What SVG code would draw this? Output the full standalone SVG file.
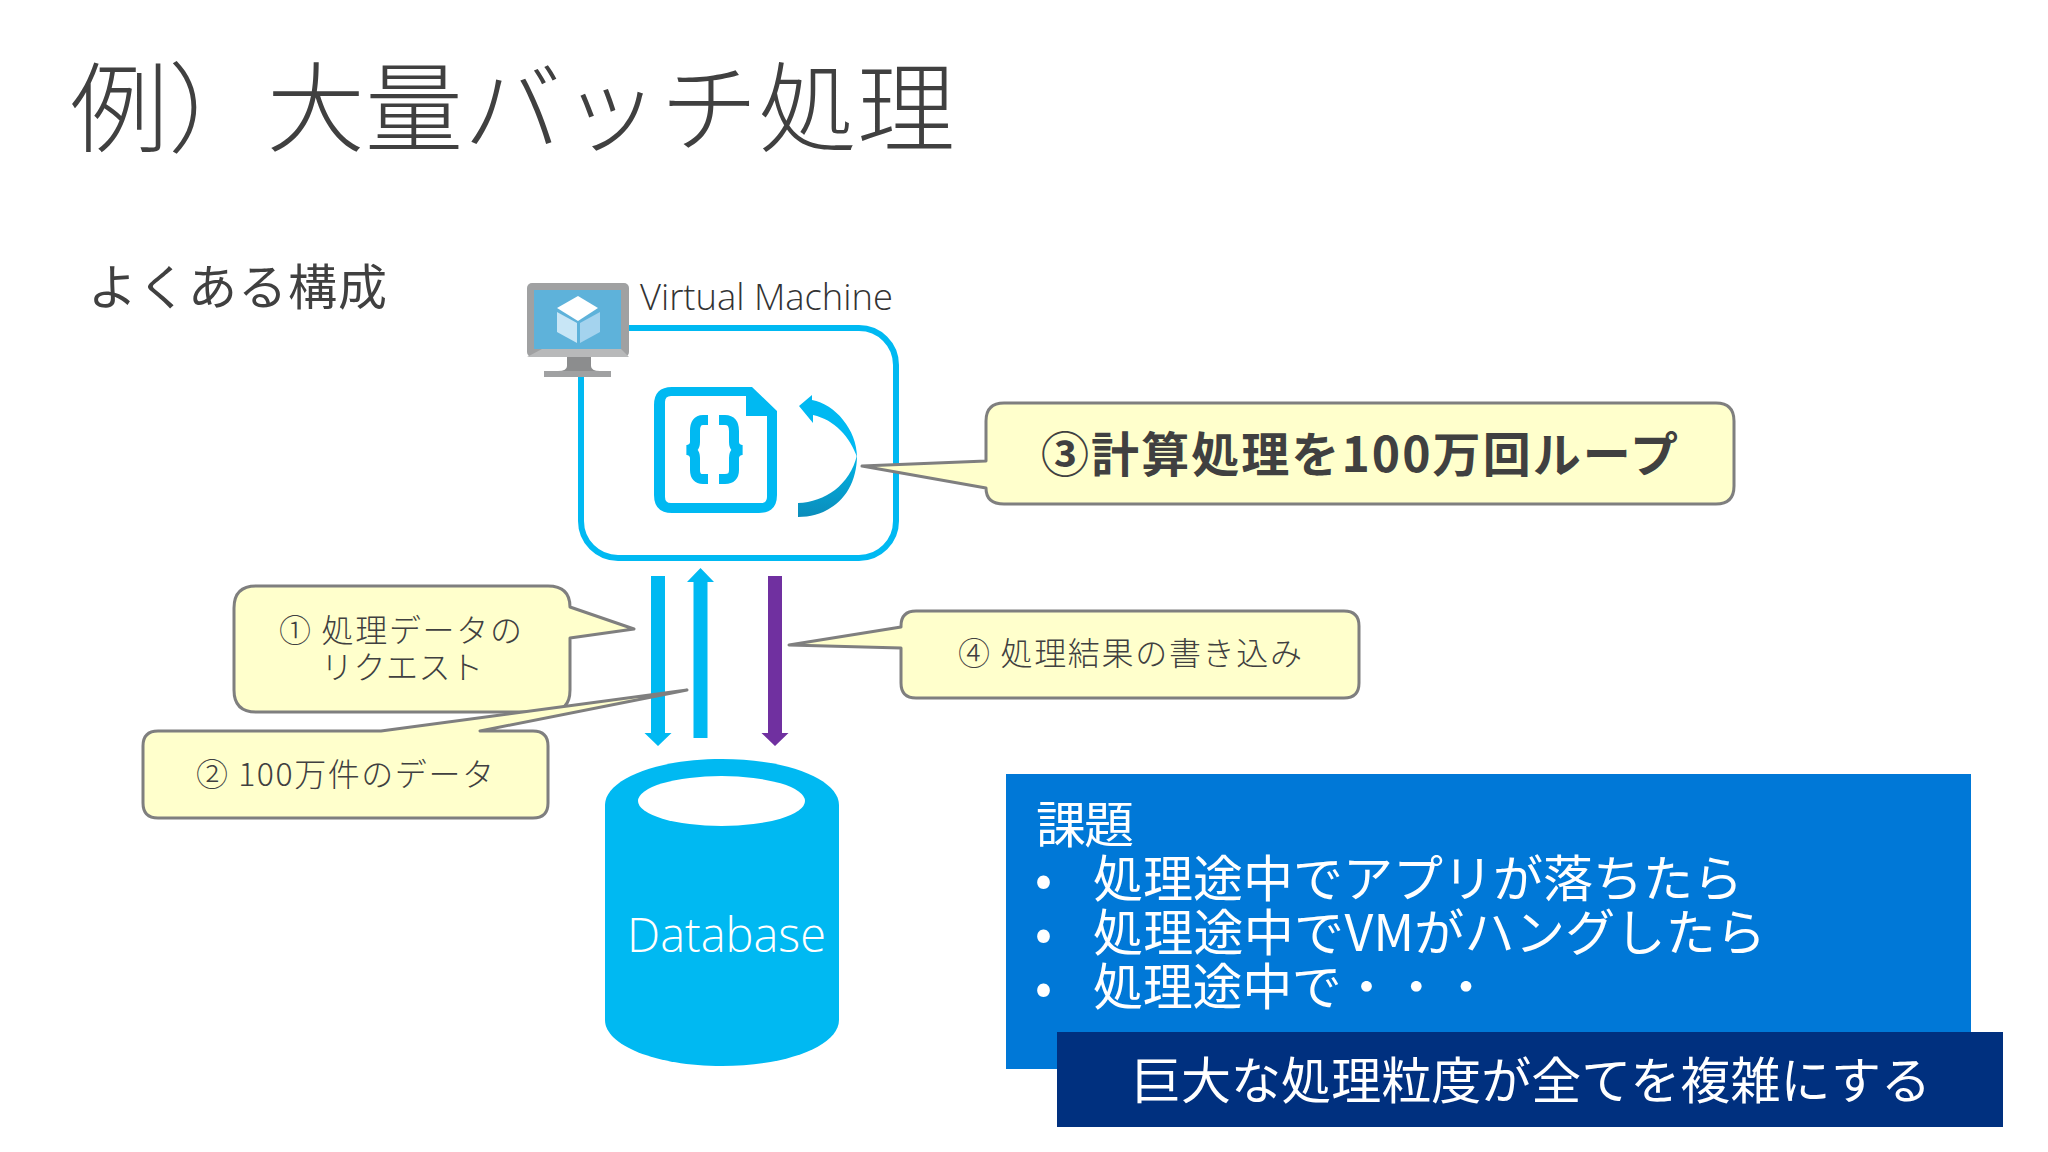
<svg xmlns="http://www.w3.org/2000/svg" width="2048" height="1152" viewBox="0 0 2048 1152">
<defs>
<linearGradient id="loop" x1="0" y1="0" x2="0" y2="1"><stop offset="0" stop-color="#00b4e6"/><stop offset="1" stop-color="#0b8dbb"/></linearGradient>
</defs>
<style>
text{font-family:"Noto Sans CJK JP","Noto Sans",sans-serif;font-weight:300;fill:#404040}
.w{fill:#fff}
.call{fill:#ffffcc;stroke:#7f7f7f;stroke-width:3;stroke-linejoin:round}
.cy{fill:#00b9f2}
.pu{fill:#7030a0}
.c{font-size:32px}
.w48{font-size:50px;fill:#fff;font-weight:400}
</style>
<rect width="2048" height="1152" fill="#fff"/>
<text id="title" x="70" y="144" font-size="98" textLength="885" lengthAdjust="spacing">例）大量バッチ処理</text>
<text id="subtitle" x="88" y="305" font-size="49" textLength="299" style="font-weight:400">よくある構成</text>

<g id="vm">
<rect x="581" y="328" width="315" height="230" rx="37" fill="#fff" stroke="#00b9f2" stroke-width="6"/>
<text x="640" y="310" font-size="36" textLength="253" lengthAdjust="spacingAndGlyphs" style="font-family:'Open Sans','Noto Sans',sans-serif;fill:#333">Virtual Machine</text>
<g id="vm-icon">
<rect x="527" y="283" width="102" height="74" rx="5" fill="#a0a1a2"/>
<path d="M527 357L542 349H621L629 357Z" fill="#b8b9ba"/>
<rect x="534" y="290" width="87" height="59" fill="#5eb2da"/>
<path d="M567 357H591V366Q591 371 600 371H611V377H544V371H558Q567 371 567 366Z" fill="#8c8d8e"/>
<rect x="544" y="371" width="67" height="6" fill="#a0a1a2"/>
<path d="M578 296L598 308L578 321L557 308Z" fill="#fff"/>
<path d="M557 312L577 323V343L557 332Z" fill="#c8e6f6"/>
<path d="M580 323L600 312V332L580 343Z" fill="#a4d3ee"/>
</g>
<g id="script-icon">
<path class="cy" fill-rule="evenodd" d="M672 387H752L777 411V495Q777 513 759 513H672Q654 513 654 495V405Q654 387 672 387ZM671 396Q665 396 665 402V497Q665 503 671 503H761Q767 503 767 497V416H746V396Z"/>
<path d="M708 420H703Q695 420 695 431V442Q695 449 687 450Q695 451 695 458V470Q695 479 703 479H708M719 420H725Q734 420 734 431V442Q734 449 742 450Q734 451 734 458V470Q734 479 725 479H719" fill="none" stroke="#00b9f2" stroke-width="10"/>
</g>
<g id="loop-arrow">
<path class="cy" d="M799 406L812 395V400C835 404 857 430 857 457C850 437 835 420 813 415V423Z"/>
<path fill="url(#loop)" d="M857 455C857 495 830 517 798 517V503C825 502 850 485 857 455Z"/>
</g>
</g>

<g id="connectors">
<path class="cy" d="M651 576H665V733H671.500L658 746L644.500 733H651Z"/>
<path class="cy" d="M693.500 738V582H687L700.500 568L714 582H707.500V738Z"/>
<path class="pu" d="M768 576H782V733H788.500L775 746L761.500 733H768Z"/>
</g>

<g id="database">
<path class="cy" d="M605 805C605 780 655 759 722 759C789 759 839 780 839 805V1020C839 1045 789 1066 722 1066C655 1066 605 1045 605 1020Z"/>
<ellipse cx="721.500" cy="801" rx="83.500" ry="25" fill="#fff"/>
<text x="627" y="952" font-size="48" class="w" textLength="199" lengthAdjust="spacingAndGlyphs" style="font-family:'Open Sans','Noto Sans',sans-serif">Database</text>
</g>

<g id="note1">
<path class="call" d="M256 586H548Q570 586 570 607L634 629L570 638V690Q570 712 548 712H256Q234 712 234 690V608Q234 586 256 586Z"/>
<text class="c" x="279" y="642" textLength="243">① 処理データの</text>
<text class="c" x="321" y="679" textLength="162">リクエスト</text>
</g>
<g id="note2">
<path class="call" d="M158 731H381L687 690L480 731H533Q548 731 548 746V803Q548 818 533 818H158Q143 818 143 803V746Q143 731 158 731Z"/>
<text class="c" x="196" y="786" textLength="298">② 100万件のデータ</text>
</g>
<g id="note4">
<path class="call" d="M916 611H1344Q1359 611 1359 626V683Q1359 698 1344 698H916Q901 698 901 683V648L789 645L901 627V626Q901 611 916 611Z"/>
<text class="c" x="958" y="665" textLength="344">④ 処理結果の書き込み</text>
</g>
<g id="note3">
<path class="call" d="M1004 403H1716Q1734 403 1734 421V486Q1734 504 1716 504H1004Q986 504 986 488L862 466L986 461V421Q986 403 1004 403Z"/>
<text x="1041" y="472" font-size="48" textLength="637" style="font-weight:700">③計算処理を100万回ループ</text>
</g>

<g id="issues">
<rect x="1006" y="774" width="965" height="295" fill="#0078d7"/>
<text class="w48" x="1036" y="843" textLength="98">課題</text>
<text class="w48" x="1035" y="897">•</text>
<text class="w48" x="1093" y="897" textLength="650">処理途中でアプリが落ちたら</text>
<text class="w48" x="1035" y="951">•</text>
<text class="w48" x="1093" y="951" textLength="673">処理途中でVMがハングしたら</text>
<text class="w48" x="1035" y="1005">•</text>
<text class="w48" x="1093" y="1005" textLength="398">処理途中で・・・</text>
</g>
<g id="conclusion">
<rect x="1057" y="1032" width="946" height="95" fill="#00307f"/>
<text class="w48" x="1131" y="1099" textLength="800">巨大な処理粒度が全てを複雑にする</text>
</g>
</svg>
